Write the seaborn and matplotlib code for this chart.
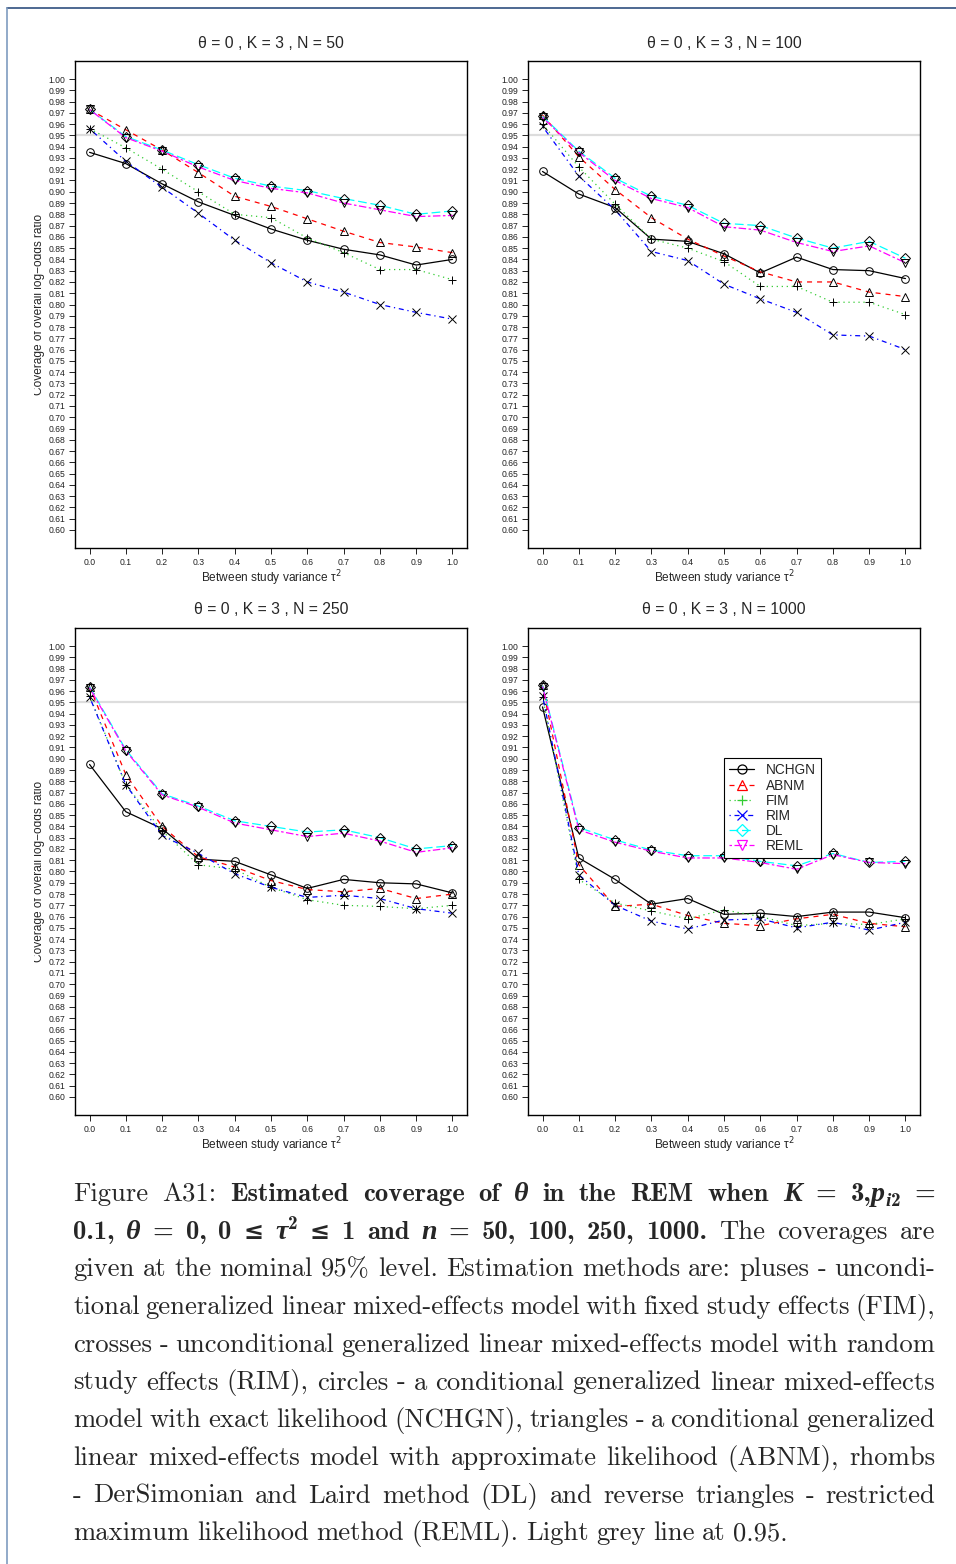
import numpy as np
import pandas as pd
import matplotlib
matplotlib.use('Agg')
import matplotlib.pyplot as plt
import seaborn as sns
from matplotlib.lines import Line2D
from matplotlib.transforms import Bbox, TransformedBbox

# Datos
tau2 = [0.0, 0.1, 0.2, 0.3, 0.4, 0.5, 0.6, 0.7, 0.8, 0.9, 1.0]
metodos = ['NCHGN', 'ABNM', 'FIM', 'RIM', 'DL', 'REML']
tamanos = [50, 100, 250, 1000]

cob_n50 = {
    'NCHGN': [0.935, 0.925, 0.907, 0.891, 0.879, 0.867, 0.857, 0.849, 0.844, 0.835, 0.840],
    'ABNM': [0.973, 0.955, 0.937, 0.917, 0.896, 0.887, 0.876, 0.865, 0.855, 0.851, 0.846],
    'FIM': [0.956, 0.939, 0.920, 0.900, 0.880, 0.877, 0.859, 0.846, 0.831, 0.831, 0.822],
    'RIM': [0.956, 0.927, 0.904, 0.881, 0.857, 0.837, 0.820, 0.811, 0.800, 0.793, 0.787],
    'DL': [0.973, 0.949, 0.937, 0.924, 0.912, 0.905, 0.901, 0.894, 0.888, 0.880, 0.883],
    'REML': [0.973, 0.948, 0.936, 0.922, 0.910, 0.903, 0.899, 0.890, 0.884, 0.878, 0.879],
}
cob_n100 = {
    'NCHGN': [0.918, 0.898, 0.886, 0.858, 0.856, 0.845, 0.828, 0.842, 0.831, 0.830, 0.823],
    'ABNM': [0.968, 0.931, 0.902, 0.877, 0.858, 0.843, 0.829, 0.820, 0.820, 0.811, 0.807],
    'FIM': [0.960, 0.922, 0.889, 0.858, 0.850, 0.838, 0.816, 0.816, 0.802, 0.802, 0.791],
    'RIM': [0.958, 0.914, 0.884, 0.847, 0.839, 0.818, 0.805, 0.793, 0.773, 0.772, 0.760],
    'DL': [0.967, 0.936, 0.912, 0.896, 0.888, 0.872, 0.870, 0.859, 0.850, 0.856, 0.841],
    'REML': [0.966, 0.935, 0.910, 0.894, 0.886, 0.869, 0.866, 0.855, 0.847, 0.852, 0.837],
}
cob_n250 = {
    'NCHGN': [0.895, 0.853, 0.838, 0.811, 0.809, 0.797, 0.785, 0.793, 0.790, 0.789, 0.781],
    'ABNM': [0.964, 0.886, 0.840, 0.813, 0.804, 0.792, 0.784, 0.782, 0.785, 0.776, 0.780],
    'FIM': [0.956, 0.877, 0.836, 0.806, 0.802, 0.786, 0.775, 0.770, 0.769, 0.767, 0.770],
    'RIM': [0.955, 0.877, 0.832, 0.816, 0.798, 0.786, 0.777, 0.779, 0.776, 0.767, 0.763],
    'DL': [0.964, 0.908, 0.869, 0.858, 0.845, 0.840, 0.835, 0.837, 0.830, 0.820, 0.823],
    'REML': [0.963, 0.907, 0.868, 0.857, 0.843, 0.837, 0.831, 0.834, 0.827, 0.817, 0.821],
}
cob_n1000 = {
    'NCHGN': [0.946, 0.812, 0.793, 0.771, 0.776, 0.762, 0.763, 0.760, 0.764, 0.764, 0.759],
    'ABNM': [0.965, 0.806, 0.769, 0.771, 0.761, 0.754, 0.752, 0.758, 0.762, 0.754, 0.751],
    'FIM': [0.955, 0.793, 0.772, 0.765, 0.758, 0.766, 0.760, 0.752, 0.754, 0.753, 0.758],
    'RIM': [0.956, 0.797, 0.770, 0.756, 0.749, 0.757, 0.758, 0.750, 0.755, 0.748, 0.755],
    'DL': [0.965, 0.839, 0.828, 0.819, 0.814, 0.814, 0.809, 0.805, 0.816, 0.808, 0.809],
    'REML': [0.964, 0.837, 0.826, 0.818, 0.812, 0.812, 0.808, 0.802, 0.815, 0.808, 0.807],
}
coberturas = [cob_n50, cob_n100, cob_n250, cob_n1000]

colores = {'NCHGN': 'black', 'ABNM': '#ff0000', 'FIM': '#33cc33',
           'RIM': '#0000ff', 'DL': '#00ffff', 'REML': '#ff00ff'}
guiones = {'NCHGN': '', 'ABNM': (4, 4), 'FIM': (1, 3), 'RIM': (1, 3, 4, 3),
           'DL': (7, 3), 'REML': (2, 2, 6, 2)}
marcadores = {'NCHGN': 'o', 'ABNM': '^', 'FIM': '+', 'RIM': 'x', 'DL': 'D', 'REML': 'v'}

W, H = 956, 1564
# posiciones de los paneles en pixeles (izq, der, arriba, abajo)
paneles = [(75, 467, 61, 548), (528, 920, 61, 548),
           (75, 467, 628, 1115), (528, 920, 628, 1115)]

sns.set_style('ticks')
plt.rcParams['font.family'] = ['Liberation Sans', 'DejaVu Sans']

fig = plt.figure(figsize=(W / 100, H / 100), dpi=100)


def px_fig(x, y):
    return x / W, 1 - y / H


def estilo_linea(m):
    return '-' if guiones[m] == '' else (0, guiones[m])


def dibujar_panel(idx):
    izq, der, arr, aba = paneles[idx]
    ax = fig.add_axes([izq / W, 1 - aba / H, (der - izq) / W, (aba - arr) / H])
    datos = coberturas[idx]
    ax.axhline(0.95, color='#dddddd', lw=1.6, zorder=0)
    for m in metodos:
        df = pd.DataFrame({'tau2': tau2, 'cobertura': datos[m]})
        sns.lineplot(data=df, x='tau2', y='cobertura', ax=ax, color=colores[m],
                     linestyle=estilo_linea(m), linewidth=0.9,
                     marker=marcadores[m], markersize=5.5, markeredgewidth=0.7,
                     markeredgecolor='black', markerfacecolor='none',
                     estimator=None, sort=False)
    for ln in ax.lines[1:]:
        ln.set_markeredgecolor('black')
        ln.set_markerfacecolor('none')

    ax.set_xlim(-0.04, 1.04)
    ax.set_ylim(0.584, 1.016)
    ax.set_xticks(tau2)
    ax.set_xticklabels([f'{t:.1f}' for t in tau2])
    yt = np.round(np.arange(60, 101) / 100, 2)
    ax.set_yticks(yt)
    ax.set_yticklabels([f'{v:.2f}' for v in yt])
    ax.tick_params(axis='both', direction='out', length=4.5, width=0.7,
                   pad=2.5, labelsize=6.2, colors='#222222')
    for s in ax.spines.values():
        s.set_visible(True)
        s.set_color('black')
        s.set_linewidth(1.0)
    ax.set_xlabel('Between study variance τ$^{2}$', fontsize=8.6, labelpad=1.5)
    ax.set_ylabel('Coverage of overall log\u2212odds ratio', fontsize=8.6)
    ax.yaxis.set_label_coords((45 - izq) / (der - izq), 0.5)
    clip = TransformedBbox(Bbox([[(izq - 41) / W, 0], [1, 1]]), fig.transFigure)
    ax.yaxis.label.set_clip_box(clip)
    ax.yaxis.label.set_clip_on(True)
    cx, cy = px_fig((izq + der) / 2, arr - 18)
    fig.text(cx, cy, f'θ = 0 , K = 3 , N = {tamanos[idx]}', ha='center',
             va='center', fontsize=11.3)
    return ax


ejes = [dibujar_panel(i) for i in range(4)]

# leyenda del cuarto panel
manejadores = []
for m in metodos:
    manejadores.append(Line2D([], [], color=colores[m], linestyle=estilo_linea(m), lw=0.9,
                              marker=marcadores[m], markersize=6.5,
                              markerfacecolor='none', markeredgecolor=colores[m],
                              markeredgewidth=0.9))
izq, der, arr, aba = paneles[3]
leg = ejes[3].legend(manejadores, metodos, loc='upper left',
                     bbox_to_anchor=((724 - izq) / (der - izq), (aba - 758) / (aba - arr)),
                     borderaxespad=0, fontsize=9.8, frameon=True, fancybox=False,
                     edgecolor='black', framealpha=1, borderpad=0.4,
                     labelspacing=0.08, handlelength=1.8, handleheight=0.8,
                     handletextpad=0.85)
leg.get_frame().set_linewidth(0.8)

# marco de la pagina
fig.add_artist(Line2D([7 / W, 1], [1 - 8 / H, 1 - 8 / H], color='#2f4f7f', lw=1.2))
fig.add_artist(Line2D([7 / W, 7 / W], [0, 1 - 8 / H], color='#7f9cc0', lw=1.2))

# pie de figura
FS = 19.2
estilos = {
    'r': dict(family='cmr10', size=FS, dy=0),
    'b': dict(family='cmb10', size=FS, dy=0),
    'bi': dict(family='Liberation Serif', weight='bold', style='italic', size=FS * 1.05, dy=0),
    'bm': dict(family='DejaVu Serif', weight='bold', size=FS * 0.9, dy=0),
    'subi': dict(family='Liberation Serif', weight='bold', style='italic', size=FS * 0.72, dy=-5),
    'sub': dict(family='cmb10', size=FS * 0.72, dy=-5),
    'sup': dict(family='cmb10', size=FS * 0.72, dy=10),
}

lineas_pie = [
    [('Figure A31: ', 'r'), ('Estimated coverage of ', 'b'), ('θ', 'bi'),
     (' in the REM when ', 'b'), ('K', 'bi'), (' = 3,', 'b'), ('p', 'bi'),
     ('i', 'subi'), ('2', 'sub'), (' =', 'b')],
    [('0.1, ', 'b'), ('θ', 'bi'), (' = 0, 0 ', 'b'), ('≤', 'bm'), (' ', 'b'),
     ('τ', 'bi'), ('2', 'sup'), (' ', 'b'), ('≤', 'bm'), (' 1 and ', 'b'),
     ('n', 'bi'), (' = 50, 100, 250, 1000.', 'b'), (' The coverages are', 'r')],
    [('given at the nominal 95% level. Estimation methods are: pluses - uncondi-', 'r')],
    [('tional generalized linear mixed-effects model with fixed study effects (FIM),', 'r')],
    [('crosses - unconditional generalized linear mixed-effects model with random', 'r')],
    [('study effects (RIM), circles - a conditional generalized linear mixed-effects', 'r')],
    [('model with exact likelihood (NCHGN), triangles - a conditional generalized', 'r')],
    [('linear mixed-effects model with approximate likelihood (ABNM), rhombs', 'r')],
    [('- DerSimonian and Laird method (DL) and reverse triangles - restricted', 'r')],
    [('maximum likelihood method (REML). Light grey line at 0.95.', 'r')],
]


def separar_palabras(trozos):
    palabras = [[]]
    for txt, st in trozos:
        partes = txt.split(' ')
        for k, p in enumerate(partes):
            if k > 0:
                palabras.append([])
            if p:
                palabras[-1].append((p, st))
    return [p for p in palabras if p]


def props(st):
    d = dict(estilos[st])
    d.pop('dy')
    return d


renderer = fig.canvas.get_renderer()


def ancho(txt, st):
    t = fig.text(0, 0, txt, **props(st))
    w = t.get_window_extent(renderer).width
    t.remove()
    return w


X0, X1 = 73, 935
for i, trozos in enumerate(lineas_pie):
    palabras = separar_palabras(trozos)
    anchos = [[ancho(p, st) for p, st in pal] for pal in palabras]
    total = sum(sum(a) for a in anchos)
    if i < len(lineas_pie) - 1 and len(palabras) > 1:
        hueco = (X1 - X0 - total) / (len(palabras) - 1)
    else:
        hueco = 7.5
    yb = 1201 + i * 37.7
    x = X0
    for pal, an in zip(palabras, anchos):
        for (p, st), a in zip(pal, an):
            fx, fy = px_fig(x, yb - estilos[st]['dy'])
            fig.text(fx, fy, p, ha='left', va='baseline', **props(st))
            x += a
        x += hueco

fig.savefig('out.png', dpi=100)
